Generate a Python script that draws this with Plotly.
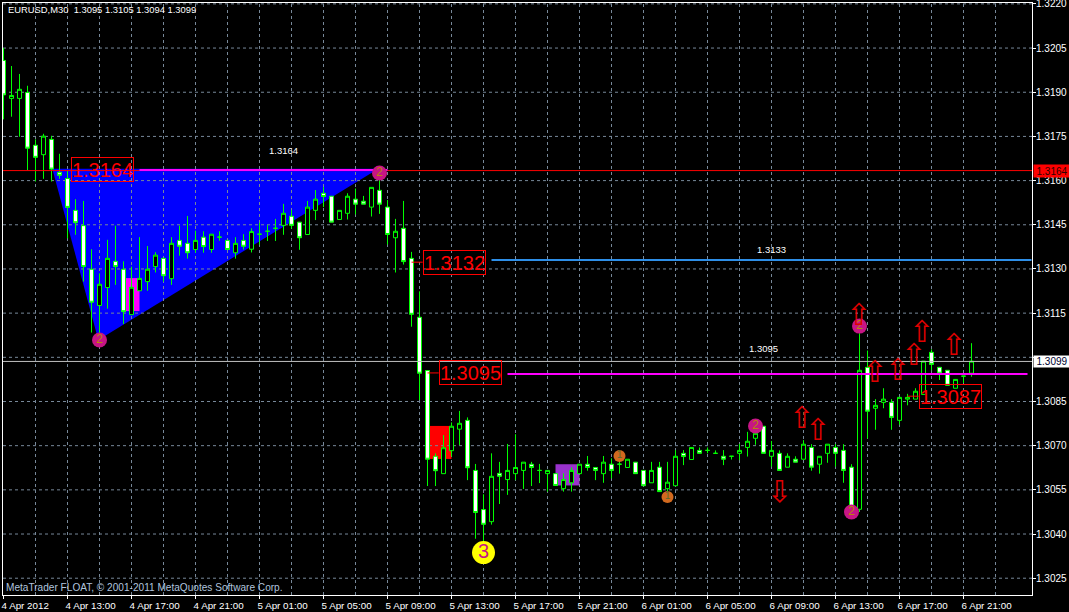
import plotly.graph_objects as go

opens = [
1.32008,1.31879,1.31879,1.31899,1.31720,1.31688,1.31740,1.31628,1.31607,1.31499,
1.31447,1.31299,1.31176,1.31237,1.31326,1.31299,1.31145,1.31226,1.31257,1.31308,
1.31336,1.31267,1.31397,1.31387,1.31366,1.31408,1.31366,1.31408,1.31397,1.31355,
1.31397,1.31367,1.31418,1.31428,1.31438,1.31448,1.31479,1.31459,1.31417,1.31499,
1.31557,1.31547,1.31468,1.31489,1.31537,1.31530,1.31510,1.31567,1.31510,1.31406,
1.31438,1.31336,1.31136,1.30955,1.30664,1.30605,1.30683,1.30756,1.30786,1.30616,
1.30483,1.30442,1.30606,1.30585,1.30605,1.30616,1.30637,1.30616,1.30605,1.30605,
1.30554,1.30574,1.30605,1.30637,1.30626,1.30605,1.30637,1.30637,1.30626,1.30644,
1.30616,1.30574,1.30627,1.30554,1.30564,1.30674,1.30653,1.30684,1.30684,1.30674,
1.30664,1.30664,1.30674,1.30694,1.30725,1.30766,1.30664,1.30674,1.30627,1.30654,
1.30654,1.30694,1.30637,1.30674,1.30694,1.30684,1.30627,1.30484,1.30966,1.30827,
1.30847,1.30847,1.30786,1.30858,1.30858,1.30874,1.31017,1.30966,1.30956,1.30895,
1.30936,1.30946]
highs = [
1.32050,1.31989,1.31962,1.31922,1.31740,1.31759,1.31752,1.31691,1.31636,1.31537,
1.31531,1.31367,1.31285,1.31399,1.31447,1.31326,1.31308,1.31408,1.31378,1.31357,
1.31336,1.31408,1.31447,1.31480,1.31430,1.31428,1.31418,1.31428,1.31397,1.31408,
1.31418,1.31438,1.31457,1.31449,1.31470,1.31521,1.31500,1.31459,1.31531,1.31568,
1.31578,1.31547,1.31499,1.31557,1.31573,1.31548,1.31577,1.31602,1.31534,1.31470,
1.31531,1.31358,1.31224,1.30955,1.30674,1.30736,1.30779,1.30818,1.30796,1.30638,
1.30535,1.30674,1.30645,1.30706,1.30739,1.30644,1.30645,1.30638,1.30616,1.30605,
1.30606,1.30626,1.30637,1.30665,1.30626,1.30665,1.30657,1.30683,1.30654,1.30644,
1.30616,1.30645,1.30645,1.30645,1.30685,1.30685,1.30694,1.30694,1.30694,1.30684,
1.30685,1.30664,1.30706,1.30747,1.30765,1.30766,1.30716,1.30684,1.30674,1.30664,
1.30719,1.30705,1.30664,1.30705,1.30705,1.30705,1.30637,1.31082,1.31023,1.30858,
1.30895,1.30858,1.30864,1.30876,1.30895,1.30987,1.31027,1.30966,1.30956,1.30925,
1.30936,1.31048]
lows = [
1.31808,1.31817,1.31749,1.31636,1.31597,1.31606,1.31597,1.31606,1.31404,1.31416,
1.31257,1.31084,1.31082,1.31165,1.31246,1.31113,1.31145,1.31226,1.31226,1.31288,
1.31257,1.31246,1.31345,1.31335,1.31355,1.31355,1.31355,1.31396,1.31366,1.31335,
1.31366,1.31356,1.31382,1.31395,1.31395,1.31416,1.31437,1.31365,1.31417,1.31466,
1.31510,1.31459,1.31468,1.31468,1.31485,1.31520,1.31478,1.31487,1.31383,1.31288,
1.31315,1.31104,1.30855,1.30563,1.30563,1.30605,1.30663,1.30702,1.30583,1.30384,
1.30374,1.30432,1.30502,1.30533,1.30583,1.30553,1.30563,1.30573,1.30544,1.30565,
1.30544,1.30544,1.30605,1.30615,1.30583,1.30574,1.30589,1.30605,1.30626,1.30605,
1.30564,1.30574,1.30544,1.30544,1.30564,1.30634,1.30653,1.30674,1.30674,1.30674,
1.30634,1.30653,1.30651,1.30663,1.30703,1.30674,1.30629,1.30616,1.30627,1.30644,
1.30654,1.30615,1.30605,1.30642,1.30629,1.30574,1.30470,1.30475,1.30724,1.30754,
1.30827,1.30754,1.30771,1.30837,1.30858,1.30874,1.30956,1.30923,1.30905,1.30895,
1.30913,1.30934]
closes = [
1.31891,1.31889,1.31910,1.31710,1.31679,1.31751,1.31639,1.31618,1.31509,1.31457,
1.31308,1.31187,1.31248,1.31336,1.31308,1.31155,1.31238,1.31268,1.31299,1.31347,
1.31277,1.31387,1.31377,1.31355,1.31397,1.31376,1.31418,1.31408,1.31366,1.31387,
1.31377,1.31427,1.31418,1.31428,1.31438,1.31489,1.31448,1.31406,1.31510,1.31537,
1.31546,1.31459,1.31499,1.31547,1.31520,1.31520,1.31577,1.31520,1.31417,1.31428,
1.31325,1.31146,1.30946,1.30654,1.30615,1.30693,1.30766,1.30776,1.30625,1.30473,
1.30433,1.30596,1.30596,1.30616,1.30626,1.30644,1.30626,1.30616,1.30616,1.30565,
1.30585,1.30616,1.30637,1.30626,1.30616,1.30644,1.30616,1.30637,1.30654,1.30605,
1.30564,1.30616,1.30544,1.30576,1.30664,1.30663,1.30694,1.30674,1.30684,1.30674,
1.30654,1.30664,1.30684,1.30715,1.30742,1.30674,1.30684,1.30616,1.30664,1.30644,
1.30705,1.30627,1.30664,1.30705,1.30674,1.30616,1.30493,1.30956,1.30817,1.30837,
1.30858,1.30796,1.30864,1.30864,1.30885,1.30987,1.30976,1.30946,1.30905,1.30925,
1.30936,1.30987]
bars = list(range(len(opens)))

y_ticks = [1.3025,1.3040,1.3055,1.3070,1.3085,1.3100,1.3115,1.3130,1.3145,1.3160,1.3175,1.3190,1.3205,1.3220]
# the 1.3100 label sits entirely behind the white bid box in the picture
y_labels = ["" if abs(v-1.31) < 1e-9 else f"{v:.4f}" for v in y_ticks]
x_ticks = [0,8,16,24,32,40,48,56,64,72,80,88,96,104,112,120]
x_labels = ["4 Apr 2012","4 Apr 13:00","4 Apr 17:00","4 Apr 21:00","5 Apr 01:00","5 Apr 05:00",
            "5 Apr 09:00","5 Apr 13:00","5 Apr 17:00","5 Apr 21:00","6 Apr 01:00","6 Apr 05:00",
            "6 Apr 09:00","6 Apr 13:00","6 Apr 17:00","6 Apr 21:00"]
x_grid = list(range(4,128,4))

triangle_bar = [6.1, 11.85, 46.85]
triangle_price = [1.3164, 1.31059, 1.3164]
rect_bars = [(15.3,17),(53,56),(69,72)]
rect_prices = [(1.31157,1.31269),(1.30655,1.30767),(1.30565,1.30637)]
rect_colors = ["#FF00FF","#FF0000","#9932CC"]

red_level = 1.31634
top_level = 1.31636
blue_level = 1.3133
magenta_level = 1.30943
bid_level = 1.30986
blue_span = [61, 128.5]
magenta_span = [63, 128]
top_span = [17, 48]
x_min, x_max = -0.0625, 128.5625
y_min, y_max = 1.30193, 1.32203

pivot2_bar = [12, 47, 94, 106, 107]
pivot2_price = [1.31059, 1.31626, 1.30767, 1.30475, 1.31106]
pivot1_bar = [77, 83]
pivot1_price = [1.30665, 1.30526]
pivot3_bar = [60]
pivot3_price = [1.30337]

up_bar = [99.8, 101.8, 106.9, 108.9, 111.8, 113.8, 114.8, 118.8]
up_price = [1.30787, 1.30746, 1.31134, 1.30943, 1.30950, 1.31001, 1.31076, 1.31035]
down_bar = [97]
down_price = [1.30533]

note_bar = [35, 96, 95]
note_price = [1.3170, 1.31361, 1.31025]
note_text = ["1.3164", "1.3133", "1.3095"]

box_text = ["1.3164", "1.3132", "1.3095", "1.3087"]
box_bar = [8.4, 52.4, 54.4, 114.4]
box_price = [1.31639, 1.31323, 1.30947, 1.30868]
conn_start = [None, 51, 53, 113]

GRID = "#778899"
fig = go.Figure()

fig.add_trace(go.Candlestick(
    x=bars, open=opens, high=highs, low=lows, close=closes,
    increasing=dict(fillcolor="#000000", line=dict(color="#00FF00", width=1)),
    decreasing=dict(fillcolor="#FFFFFF", line=dict(color="#00FF00", width=1)),
    whiskerwidth=0, hoverinfo="skip", showlegend=False))

def hline(xs, level, color, width):
    fig.add_trace(go.Scatter(x=xs, y=[level, level], mode="lines",
                             line=dict(color=color, width=width),
                             hoverinfo="skip", showlegend=False))

hline([x_min, x_max], bid_level, "#C0C0C0", 1)
hline([x_min, x_max], red_level, "#FF0000", 1)
hline(top_span, top_level, "#FF00FF", 2)
hline(blue_span, blue_level, "#2E8FE8", 2)
hline(magenta_span, magenta_level, "#FF00FF", 2)

for b, s, p in zip(box_bar, conn_start, box_price):
    if s is not None:
        hline([s, b], p, "#FF0000", 1)

def pivots(xs, ys, size, color, label, lsize, lcolor):
    fig.add_trace(go.Scatter(x=xs, y=ys, mode="markers+text",
                             marker=dict(size=size, color=color, line=dict(width=0)),
                             text=[label]*len(xs), textposition="middle center",
                             textfont=dict(family="Liberation Sans", size=lsize, color=lcolor),
                             hoverinfo="skip", showlegend=False))

pivots(pivot2_bar, pivot2_price, 15, "#C71585", "2", 12, "#B8860B")
pivots(pivot1_bar, pivot1_price, 12, "#D2691E", "1", 10, "#556B2F")
pivots(pivot3_bar, pivot3_price, 23, "#FFFF00", "3", 20, "#C71585")

fig.add_trace(go.Scatter(x=up_bar, y=up_price, mode="text", text=["\u21e7"]*len(up_bar),
                         textposition="middle center",
                         textfont=dict(family="DejaVu Sans", size=30, color="#E00000"),
                         hoverinfo="skip", showlegend=False))
fig.add_trace(go.Scatter(x=down_bar, y=down_price, mode="text", text=["\u21e9"]*len(down_bar),
                         textposition="middle center",
                         textfont=dict(family="DejaVu Sans", size=30, color="#E00000"),
                         hoverinfo="skip", showlegend=False))
fig.add_trace(go.Scatter(x=note_bar, y=note_price, mode="text", text=note_text,
                         textposition="middle center",
                         textfont=dict(family="Liberation Sans", size=9.5, color="#FFFFFF"),
                         hoverinfo="skip", showlegend=False))

shapes = [dict(type="path", xref="x", yref="y", layer="below", fillcolor="#0000FF",
               line=dict(width=0),
               path="M" + "L".join(f"{a},{b}" for a, b in zip(triangle_bar, triangle_price)) + "Z")]
for (x0, x1), (y0, y1), c in zip(rect_bars, rect_prices, rect_colors):
    shapes.append(dict(type="rect", xref="x", yref="y", layer="below", fillcolor=c,
                       line=dict(width=0), x0=x0, x1=x1, y0=y0, y1=y1))
for v in y_ticks:
    shapes.append(dict(type="line", xref="x", yref="y", layer="below", x0=x_min, x1=x_max, y0=v, y1=v,
                       line=dict(color=GRID, width=1, dash="3px,3px")))
for v in x_grid:
    shapes.append(dict(type="line", xref="x", yref="y", layer="below", x0=v, x1=v, y0=y_min, y1=y_max,
                       line=dict(color=GRID, width=1, dash="3px,3px")))

annotations = [
    dict(xref="paper", yref="paper", x=0.003, y=0.9895, xanchor="left", yanchor="middle",
         text="EURUSD,M30  1.3095 1.3105 1.3094 1.3099", showarrow=False,
         font=dict(family="Liberation Sans", size=9.4, color="#FFFFFF")),
    dict(xref="paper", yref="paper", x=0.001, y=0.0135, xanchor="left", yanchor="middle",
         text="MetaTrader FLOAT, \u00a9 2001-2011 MetaQuotes Software Corp.", showarrow=False,
         font=dict(family="Liberation Sans", size=10.1, color="#B0C4DE")),
    dict(xref="paper", yref="y", x=1.001, y=red_level, xanchor="left", yanchor="middle",
         text="1.3164", showarrow=False, bgcolor="#FF0000", width=36, height=12, align="center",
         borderpad=0, font=dict(family="Liberation Sans", size=10, color="#300000")),
    dict(xref="paper", yref="y", x=1.001, y=bid_level, xanchor="left", yanchor="middle",
         text="1.3099", showarrow=False, bgcolor="#FFFFFF", width=36, height=11, align="center",
         borderpad=0, font=dict(family="Liberation Sans", size=10, color="#000030")),
]
for t, b, p in zip(box_text, box_bar, box_price):
    annotations.append(dict(xref="x", yref="y", x=b, y=p, xanchor="left", yanchor="middle",
                            text=t, showarrow=False, width=61, height=23, borderpad=0,
                            bordercolor="#FF0000", borderwidth=1,
                            font=dict(family="Liberation Sans", size=20, color="#FF0000")))

fig.update_layout(
    width=1069, height=612, autosize=False,
    paper_bgcolor="#000000", plot_bgcolor="#000000",
    margin=dict(l=3, r=37, t=3, b=17, pad=0),
    boxgap=0.5, boxgroupgap=0, showlegend=False, hovermode=False, dragmode=False,
    shapes=shapes, annotations=annotations,
    font=dict(family="Liberation Sans", size=10, color="#FFFFFF"),
    xaxis=dict(range=[x_min, x_max], rangeslider=dict(visible=False), automargin=False,
               tickmode="array", tickvals=x_ticks, ticktext=x_labels,
               ticks="outside", ticklen=3, tickcolor="#FFFFFF", ticklabelposition="outside right",
               ticklabelshift=-3, ticklabelstandoff=1, ticklabeloverflow="allow",
               showgrid=False, zeroline=False, showline=True, mirror=True,
               linecolor="#FFFFFF", linewidth=1,
               tickfont=dict(family="Liberation Sans", size=9.8, color="#FFFFFF")),
    yaxis=dict(range=[y_min, y_max], side="right", tickmode="array", tickvals=y_ticks, ticktext=y_labels,
               automargin=False,
               ticks="outside", ticklen=3, tickcolor="#FFFFFF", ticklabelstandoff=-2,
               ticklabeloverflow="allow",
               showgrid=False, zeroline=False, showline=True, mirror=True,
               linecolor="#FFFFFF", linewidth=1,
               tickfont=dict(family="Liberation Sans", size=10, color="#FFFFFF")),
)

fig.write_html("out.html", config=dict(displayModeBar=False, staticPlot=True),
               post_script="document.body.style.margin='0';document.body.style.background='#000';")
